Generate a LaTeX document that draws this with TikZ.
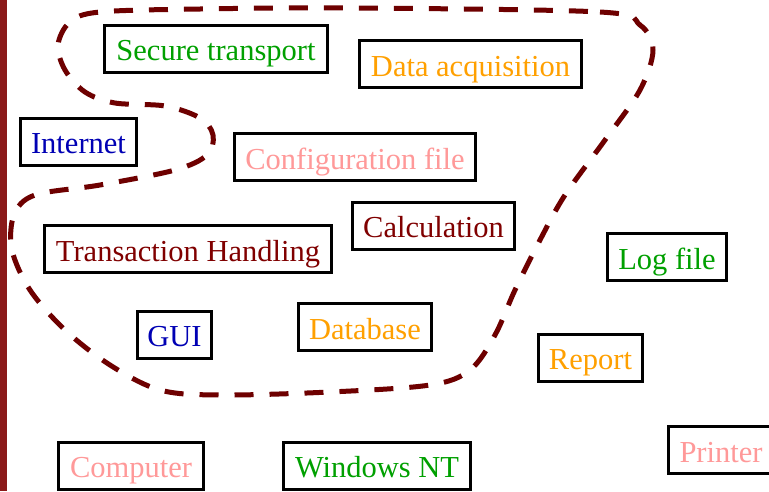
\documentclass[tikz,border=0pt]{standalone}
\usepackage{fontspec}
\setmainfont{Liberation Serif}
\definecolor{cgreen}{RGB}{0,160,0}
\definecolor{corange}{RGB}{255,160,0}
\definecolor{cblue}{RGB}{0,0,180}
\definecolor{cpink}{RGB}{255,153,153}
\definecolor{cdark}{RGB}{128,0,0}
\definecolor{cloop}{RGB}{110,0,0}
\definecolor{cstrip}{RGB}{139,26,26}
\begin{document}
\begin{tikzpicture}[x=1pt,y=-1pt,
  item/.style={draw=black, line width=3pt, fill=white, inner sep=0pt,
    minimum height=47pt, text height=28pt, text depth=4pt,
    font=\fontsize{30.5}{36}\selectfont},
  loop/.style={draw=cloop, line width=5pt, dash pattern=on 19pt off 16pt}]
\useasboundingbox (0,0) rectangle (769,491);
\clip (0,0) rectangle (769,491);
\fill[white] (0,0) rectangle (769,491);
\fill[cstrip] (0,0) rectangle (7,491);

% grouping outline
\draw[loop] plot[smooth cycle, tension=0.55] coordinates {
  (350,8) (600,12) (640,25) (653,50) (640,90) (605,140) (565,195)
  (540,240) (515,290) (495,335) (470,370) (430,385) (330,392) (220,395)
  (160,390) (110,365) (65,330) (30,290) (12,250) (14,215) (35,195)
  (100,185) (175,170) (207,155) (213,135) (200,118) (165,106) (115,103)
  (85,92) (65,70) (58,45) (70,22) (100,12) (200,9)};

% components
\node[item, text=cgreen, minimum width=223pt]  (secure)   at (216,48.5)  {Secure transport};
\node[item, text=corange, minimum width=222pt] (acq)      at (470.5,64)  {Data acquisition};
\node[item, text=cblue, minimum width=116pt]   (internet) at (78.5,141.5) {Internet};
\node[item, text=cpink, minimum width=241pt]   (config)   at (355,157)   {Configuration file};
\node[item, text=cdark, minimum width=287pt]   (trans)    at (188,249)   {Transaction Handling};
\node[item, text=cdark, minimum width=162pt]   (calc)     at (433.5,225.5) {Calculation};
\node[item, text=cgreen, minimum width=119pt]  (log)      at (667,257)   {Log file};
\node[item, text=cblue, minimum width=74pt]    (gui)      at (174.5,334.5) {GUI};
\node[item, text=corange, minimum width=133pt] (db)       at (365,327)   {Database};
\node[item, text=corange, minimum width=104pt] (report)   at (590.5,357.5) {Report};
\node[item, text=cpink, minimum width=145pt]   (computer) at (131,465.5) {Computer};
\node[item, text=cgreen, minimum width=187pt]  (winnt)    at (377,465.5) {Windows NT};
\node[item, text=cpink, minimum width=105pt]   (printer)  at (721,450)   {Printer};
\end{tikzpicture}
\end{document}
